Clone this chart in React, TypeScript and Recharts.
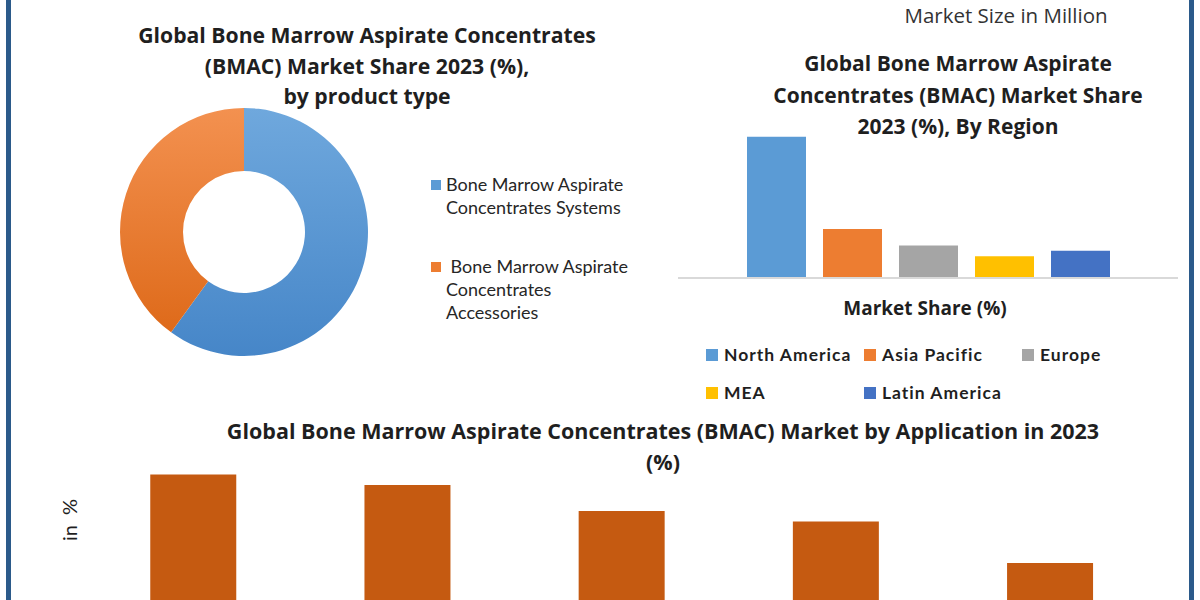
import { PieChart, Pie, Cell, BarChart, Bar, XAxis, YAxis, Legend } from 'recharts'

// product type donut
const productTypes = ['Bone Marrow Aspirate\nConcentrates Systems', ' Bone Marrow Aspirate\nConcentrates\nAccessories']
const productShare = [60, 40]
const productColors = ['url(#gradBlue)', 'url(#gradOrange)']
const productSwatch = ['#5B9BD5', '#ED7D31']

// region bars
const regions = ['North America', 'Asia Pacific', 'Europe', 'MEA', 'Latin America']
const regionShare = [52, 18, 12, 8, 10]
const regionColors = ['#5B9BD5', '#ED7D31', '#A5A5A5', '#FFC000', '#4472C4']

// application bars (category labels fall below the visible area)
const applications = ['Orthopedics', 'Wound Healing', 'Spinal Fusion', 'Cartilage Repair', 'Others']
const applicationShare = [27, 25, 20, 18, 10]

const FONT = 'Lato, "Open Sans", sans-serif'
const TITLE_FONT = '"Open Sans", Lato, sans-serif'
const INK = '#1f1f1f'

const productData = productTypes.map((name, i) => ({ name, value: productShare[i] }))
const regionRow: Record<string, number | string> = { name: '2023' }
regions.forEach((r, i) => { regionRow[r] = regionShare[i] })
const regionData = [regionRow]
const applicationData = applications.map((name, i) => ({ name, value: applicationShare[i] }))

type TxtProps = { x: number; y: number; size: number; bold?: boolean; rotate?: boolean; color?: string; font?: string; children: string }

const Txt = ({ x, y, size, bold, rotate, color, font, children }: TxtProps) => (
  <div
    style={{
      position: 'absolute', left: x, top: y, whiteSpace: 'pre',
      transform: `translate(-50%, -50%)${rotate ? ' rotate(-90deg)' : ''}`,
      fontFamily: font ?? TITLE_FONT, fontSize: size, fontWeight: bold ? 700 : 400,
      color: color ?? INK, lineHeight: 1,
    }}
  >
    {children}
  </div>
)

// keep legend entries in data order, not the library's sorted order
const ordered = (payload: any[] | undefined, names: string[]) =>
  names.map(n => (payload ?? []).find(p => p.value === n)).filter(Boolean)

const ProductLegend = ({ payload }: any) => (
  <div style={{ fontFamily: FONT, fontSize: 18, color: '#262626' }}>
    {ordered(payload, productTypes).map((p: any, i: number) => (
      <div key={i} style={{ display: 'flex', alignItems: 'flex-start', marginBottom: i === 0 ? 36 : 0 }}>
        <div style={{ width: 10, height: 10, marginTop: 6.5, marginRight: 5, background: productSwatch[i] }} />
        <div style={{ whiteSpace: 'pre', lineHeight: '23px' }}>{p.value}</div>
      </div>
    ))}
  </div>
)

const RegionLegend = ({ payload }: any) => (
  <div style={{ position: 'relative', width: 540, height: 120, fontFamily: FONT, color: INK }}>
    <div style={{ position: 'absolute', left: 265, top: 18, transform: 'translate(-50%, -50%)', fontFamily: TITLE_FONT, fontSize: 19, fontWeight: 700, whiteSpace: 'nowrap' }}>
      Market Share (%)
    </div>
    {ordered(payload, regions).map((p: any, i: number) => (
      <div
        key={i}
        style={{
          position: 'absolute', left: 46 + (i % 3) * 158, top: 54 + Math.floor(i / 3) * 38,
          display: 'flex', alignItems: 'center', fontSize: 17.5, fontWeight: 700, letterSpacing: 1, whiteSpace: 'nowrap',
        }}
      >
        <div style={{ width: 12, height: 12, marginRight: 6, background: p.color }} />
        {p.value}
      </div>
    ))}
  </div>
)

export default function App() {
  return (
    <div style={{ position: 'absolute', left: 0, top: 0, width: 1200, height: 600, overflow: 'hidden', background: '#fff' }}>
      <div style={{ position: 'absolute', left: 6, top: 0, width: 5, height: 600, background: '#2B5A8A' }} />
      <div style={{ position: 'absolute', left: 1189, top: 0, width: 5, height: 600, background: '#2B5A8A' }} />

      <Txt x={1006} y={15} size={20.5} color="#333">Market Size in Million</Txt>

      <Txt x={367} y={35} size={21.2} bold>Global Bone Marrow Aspirate Concentrates</Txt>
      <Txt x={367} y={66} size={21.2} bold>(BMAC) Market Share 2023 (%),</Txt>
      <Txt x={367} y={96} size={21.2} bold>by product type</Txt>

      <Txt x={958} y={63} size={21} bold>Global Bone Marrow Aspirate</Txt>
      <Txt x={958} y={95} size={21} bold>Concentrates (BMAC) Market Share</Txt>
      <Txt x={958} y={126} size={21} bold>2023 (%), By Region</Txt>

      <Txt x={663} y={431} size={21.5} bold>Global Bone Marrow Aspirate Concentrates (BMAC) Market by Application in 2023</Txt>
      <Txt x={663} y={462} size={21.5} bold>(%)</Txt>
      <Txt x={69} y={520} size={20} font={FONT} rotate>in  %</Txt>

      <div style={{ position: 'absolute', left: 0, top: 100 }}>
        <PieChart width={680} height={270} margin={{ top: 0, right: 0, bottom: 0, left: 0 }}>
          <defs>
            <linearGradient id="gradBlue" x1="0" y1="0" x2="0" y2="1">
              <stop offset="0%" stopColor="#6FA8DD" />
              <stop offset="100%" stopColor="#4686C8" />
            </linearGradient>
            <linearGradient id="gradOrange" x1="0" y1="0" x2="0" y2="1">
              <stop offset="0%" stopColor="#F39150" />
              <stop offset="100%" stopColor="#DE6A1A" />
            </linearGradient>
          </defs>
          <Pie
            data={productData}
            dataKey="value"
            nameKey="name"
            cx={244}
            cy={132}
            innerRadius={61}
            outerRadius={124}
            startAngle={90}
            endAngle={-270}
            stroke="none"
            isAnimationActive={false}
          >
            {productData.map((_, i) => <Cell key={i} fill={productColors[i]} />)}
          </Pie>
          <Legend
            layout="vertical"
            verticalAlign="middle"
            align="center"
            content={<ProductLegend />}
            wrapperStyle={{ left: 431, top: 73, width: 240 }}
          />
        </PieChart>
      </div>

      <div style={{ position: 'absolute', left: 660, top: 90 }}>
        <BarChart
          width={540}
          height={320}
          data={regionData}
          margin={{ top: 25, right: 22, bottom: 131, left: 18 }}
          barCategoryGap="13.8%"
          barGap={17}
        >
          <XAxis dataKey="name" tick={false} tickLine={false} height={1} axisLine={{ stroke: '#D9D9D9', strokeWidth: 2 }} />
          <YAxis hide domain={[0, 60]} />
          {regions.map((r, i) => (
            <Bar key={r} dataKey={r} fill={regionColors[i]} isAnimationActive={false} />
          ))}
          <Legend
            layout="horizontal"
            verticalAlign="middle"
            align="center"
            content={<RegionLegend />}
            wrapperStyle={{ left: 0, top: 200, width: 540 }}
          />
        </BarChart>
      </div>

      <div style={{ position: 'absolute', left: 0, top: 440 }}>
        <BarChart
          width={1200}
          height={200}
          data={applicationData}
          margin={{ top: 19, right: 43, bottom: 25, left: 86 }}
          barCategoryGap="30%"
        >
          <XAxis dataKey="name" hide />
          <YAxis hide domain={[0, 30]} />
          <Bar dataKey="value" fill="#C55A11" isAnimationActive={false} />
        </BarChart>
      </div>
    </div>
  )
}
